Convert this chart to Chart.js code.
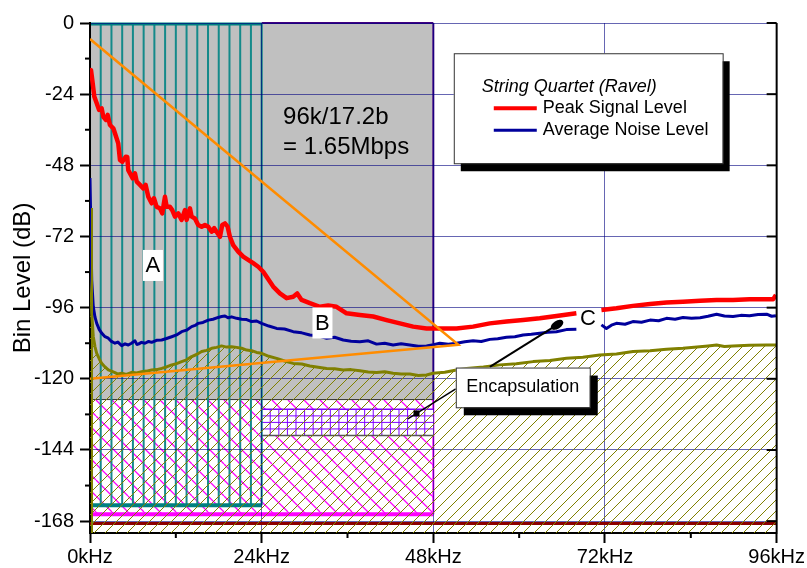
<!DOCTYPE html>
<html>
<head>
<meta charset="utf-8">
<script src="https://cdn.jsdelivr.net/npm/chart.js@4.4.1/dist/chart.umd.min.js"></script>
<style>
  html, body { margin: 0; padding: 0; background: #fff; }
  canvas { display: block; }
</style>
</head>
<body>
<canvas id="c" width="807" height="568"></canvas>
<script>
// axis ticks
const xTicks = [0, 24, 48, 72, 96];
const xMinor = [12, 36, 60, 84];
const yTicks = [-168, -144, -120, -96, -72, -48, -24, 0];
const yMinor = [-156, -132, -108, -84, -60, -36, -12];

// Peak Signal Level (red), gap near 70 kHz
const peakKhz = [0, 0.14, 0.32, 0.6, 0.94, 1.26, 1.63, 1.86, 2.24, 2.47, 2.79, 3.26, 3.49, 3.95, 4.19, 4.51, 4.99, 5.21, 5.35, 5.73,
  5.97, 6.29, 6.53, 6.99, 7.45, 7.78, 8.15, 8.62, 8.94, 9.32, 9.78, 10.1, 10.48, 10.72, 11.18, 11.5, 11.88, 12.34, 12.81, 13.28,
  13.51, 13.97, 14.21, 14.67, 15.13, 15.61, 16.07, 16.53, 17.01, 17.37, 17.84, 18.17, 18.49, 18.87, 19.24, 19.56, 20.02, 20.72,
  21.42, 22.12, 22.82, 23.52, 24.22, 24.69, 25.61, 26.55, 27.49, 28.41, 28.97, 29.58, 30.74, 32.14, 33.3, 34.47, 35.87, 37.73,
  39.59, 41.46, 43.32, 45.18, 47.05, 48.91, 51.24, 53.56, 55.9, 58.23, 60.55, 62.88, 65.22, 68.0, 69.8,
  71.5, 73.6, 75.9, 78.3, 80.6, 82.9, 85.3, 87.6, 89.9, 92.2, 95.5, 95.9];
const peakDb = [-16.4, -15.9, -19.2, -24.8, -27.1, -29.3, -28.8, -31.6, -32.7, -31.0, -34.4, -35.5, -37.2, -40.6, -46.2, -46.8, -45.1, -45.2, -49.6, -51.3,
  -52.4, -50.7, -53.5, -54.6, -55.8, -54.6, -58.6, -60.8, -59.1, -62.0, -62.5, -64.2, -58.6, -62.0, -62.0, -63.1, -65.3, -64.2, -66.4, -63.1,
  -66.4, -62.5, -65.3, -65.9, -68.1, -68.7, -68.1, -68.7, -70.4, -69.2, -70.9, -72.1, -68.1, -67.6, -68.7, -72.1, -74.9, -77.1,
  -78.8, -79.9, -81.0, -82.2, -83.9, -85.6, -88.9, -91.2, -92.8, -92.3, -91.2, -93.4, -94.5, -95.7, -95.3, -95.7, -97.9, -98.5,
  -99.0, -100.2, -101.3, -102.4, -103.0, -103.0, -103.0, -102.4, -101.3, -100.7, -100.2, -99.6, -98.8, -97.9, null,
  -96.8, -96.2, -95.4, -94.8, -94.3, -94.0, -93.7, -93.4, -93.4, -93.2, -93.2, -91.7];

// Average Noise Level (blue), gap near 70 kHz
const noiseKhz = [0, 0.24, 0.46, 0.7, 0.94, 1.3, 1.63, 2.1, 2.56, 3.0, 3.49, 3.9, 4.43, 4.9, 5.35, 5.8, 6.29, 6.55, 6.75, 7.2,
  7.69, 8.2, 8.62, 9.3, 10.02, 10.7, 11.42, 12.1, 12.81, 13.5, 14.21, 14.7, 15.13, 15.8, 16.53, 17.2, 17.93, 18.4, 18.87, 19.3,
  19.8, 20.5, 21.2, 21.9, 22.6, 23.3, 23.99, 25.0, 26.09, 27.2, 28.41, 29.6, 30.74, 31.9, 33.08, 34.2, 35.4, 36.5, 37.73, 38.9,
  40.06, 41.2, 42.38, 43.5, 44.72, 45.9, 47.05, 48.0, 48.91, 50.1, 51.24, 52.4, 53.56, 54.7, 55.9, 57.0, 58.23, 59.4, 60.55, 61.7,
  62.88, 64.0, 65.22, 66.6, 68.0, 69.8,
  71.5, 72.2, 72.9, 73.6, 74.8, 75.9, 77.1, 78.3, 79.5, 80.6, 81.8, 82.9, 84.1, 85.3, 86.4, 87.6, 88.7, 89.9, 91.0, 92.2,
  93.4, 94.6, 95.3, 95.9];
const noiseDb = [-52.3, -86.7, -95.7, -99.2, -101.3, -103.4, -104.6, -105.8, -106.3, -107.4, -108.0, -107.6, -108.8, -108.2, -108.6, -108.0, -107.2, -108.4, -108.3, -107.7,
  -108.0, -107.4, -107.7, -107.0, -106.9, -106.4, -105.8, -105.2, -104.1, -103.6, -102.4, -102.0, -101.3, -101.0, -100.2, -99.9, -99.3, -99.0, -98.8, -99.4,
  -99.1, -99.6, -99.9, -100.0, -100.7, -100.5, -101.3, -102.2, -103.0, -103.2, -104.1, -104.5, -105.2, -105.5, -106.3, -106.0, -106.9, -107.3, -107.5, -107.2,
  -108.3, -108.0, -108.6, -108.2, -108.6, -109.0, -108.9, -108.5, -108.0, -108.3, -108.0, -107.5, -107.2, -107.4, -106.7, -106.5, -106.0, -105.8, -105.2, -105.0,
  -104.6, -104.3, -104.1, -103.4, -103.3, null,
  -101.8, -103.0, -101.9, -101.3, -101.6, -100.7, -100.9, -100.2, -100.4, -99.6, -99.9, -99.3, -99.6, -99.4, -98.9, -98.2, -98.8, -99.0, -98.6, -98.7,
  -98.3, -98.2, -98.9, -98.7];

// lower noise curve (olive), hatched below
const floorKhz = [0, 0.24, 0.46, 0.7, 0.94, 1.3, 1.63, 2.1, 2.56, 3.0, 3.49, 3.9, 4.43, 5.1, 5.83, 6.5, 7.22, 7.9, 8.62, 9.3,
  10.02, 10.7, 11.42, 12.1, 12.81, 13.5, 14.21, 14.9, 15.61, 16.3, 17.01, 17.7, 18.4, 19.1, 19.8, 20.5, 21.2, 21.9, 22.6, 23.3,
  23.99, 25.0, 26.09, 27.2, 28.41, 29.6, 30.74, 31.9, 33.08, 34.2, 35.4, 36.5, 37.73, 38.9, 40.06, 41.2, 42.38, 43.5, 44.72, 45.9,
  47.05, 47.97, 49.6, 51.24, 52.63, 55.0, 57.29, 59.6, 61.95, 64.3, 66.61, 68.9, 71.27, 73.6, 75.92, 78.3, 80.59, 82.9, 85.25, 86.4,
  87.6, 88.7, 89.9, 92.2, 94.6, 96];
const floorDb = [-62.4, -97.8, -105.8, -109.2, -111.4, -113.3, -114.8, -116.0, -117.0, -117.4, -117.9, -118.4, -118.1, -118.5, -117.8, -118.0, -117.6, -117.4, -117.0, -116.9,
  -116.5, -116.0, -115.3, -114.9, -114.2, -113.6, -112.5, -111.8, -110.8, -110.4, -109.7, -109.4, -108.9, -109.3, -109.2, -109.4, -109.7, -110.3, -110.5, -111.1,
  -111.4, -112.4, -113.1, -114.0, -114.8, -115.0, -115.7, -116.1, -116.5, -116.6, -117.0, -116.9, -117.3, -117.7, -117.9, -117.6, -118.1, -118.4, -118.4, -118.9,
  -118.7, -118.1, -117.8, -117.0, -116.5, -116.0, -115.3, -114.9, -114.2, -113.8, -113.1, -112.7, -112.0, -111.6, -110.8, -110.5, -110.0, -109.7, -109.2, -108.9,
  -108.6, -109.1, -108.9, -108.7, -108.6, -108.6];

// orange guide lines, dark red bottom line
const guideKhz = [0, 51.5, 0];
const guideDb = [-5.4, -108.5, -120];
const baseKhz = [0, 96];
const baseDb = [-168.8, -168.8];

// shaded regions [kHz from, kHz to, dB top, dB bottom]
const grayBox = [0, 48, 0, -127];
const tealBox = [0, 24, 0, -162.6];
const pinkBox = [0, 48, -127, -165.7];
const gridBox = [24, 48, -130.3, -139.1];

// annotations
const rateText = ['96k/17.2b', '= 1.65Mbps'];
const rateAt = [27.0, -31.7, -41.8];
const tags = [['A', 8.8, -81.6, true], ['B', 32.5, -101, true], ['C', 69.6, -99.5, false]];
const encText = 'Encapsulation';
const encBox = [51.14, 69.87, -116.2, -129.6];
const encArrow1 = [55.9, -116.0, 65.3, -101.8];
const encArrow2 = [51.14, -123.4, 44.44, -133.5];
const legendTitle = 'String Quartet (Ravel)';
const legendBox = [50.86, 88.45, -10.2, -47.3];

const pts = (xs, ys) => xs.map((x, i) => ({ x: x, y: ys[i] }));

const ctx0 = document.getElementById('c').getContext('2d');
function hatch(color, size, slash, w) {
  const c = document.createElement('canvas');
  c.width = size; c.height = size;
  const g = c.getContext('2d');
  g.strokeStyle = color; g.lineWidth = w;
  g.beginPath();
  for (let k = -1; k <= 1; k++) {
    if (slash) { g.moveTo(k * size, size); g.lineTo(k * size + size, 0); }
    else { g.moveTo(k * size, 0); g.lineTo(k * size + size, size); }
  }
  g.stroke();
  return ctx0.createPattern(c, 'repeat');
}
const oliveHatch = hatch('#808000', 11, true, 1);
const pinkHatch = hatch('#ff00ff', 16, false, 1.3);

const gridColor = 'rgba(0,0,128,0.6)';
const FONT = "'Liberation Sans', Arial, sans-serif";
Chart.defaults.font.family = FONT;

const overlay = {
  id: 'overlay',
  beforeDraw(chart) {
    const ctx = chart.ctx, xs = chart.scales.x, ys = chart.scales.y;
    const px = v => xs.getPixelForValue(v), py = v => ys.getPixelForValue(v);
    const line = (x1, y1, x2, y2, col, w) => {
      ctx.strokeStyle = col; ctx.lineWidth = w;
      ctx.beginPath(); ctx.moveTo(x1, y1); ctx.lineTo(x2, y2); ctx.stroke();
    };
    ctx.save();
    // gray region
    let l = px(grayBox[0]), r = px(grayBox[1]), t = py(grayBox[2]), b = py(grayBox[3]);
    ctx.fillStyle = '#c0c0c0';
    ctx.fillRect(l, t, r - l, b - t);
    // pink cross region
    const pl = px(pinkBox[0]), pr = px(pinkBox[1]), pt = py(pinkBox[2]), pb = py(pinkBox[3]);
    ctx.fillStyle = '#fff'; ctx.fillRect(pl, pt, pr - pl, pb - pt);
    ctx.fillStyle = pinkHatch; ctx.fillRect(pl, pt, pr - pl, pb - pt);
    line(pr, pt, pr, pb, '#ff00ff', 2);
    line(pl, pb, pr, pb, '#ff00ff', 4);
    // purple grid
    const gl = px(gridBox[0]), gr = px(gridBox[1]), gt = py(gridBox[2]), gb = py(gridBox[3]);
    ctx.fillStyle = '#fff'; ctx.fillRect(gl, gt, gr - gl, gb - gt);
    for (let x = gridBox[0] + 1.2; x < gridBox[1]; x += 1.2) line(px(x), gt, px(x), gb, '#8000ff', 1);
    for (let k = 1; k < 4; k++) {
      const y = gt + (gb - gt) * k / 4;
      line(gl, y, gr, y, '#8000ff', 1);
    }
    line(gl, gt, gr, gt, '#8000ff', 1.5);
    line(gl, gb, gr, gb, '#555', 1.5);
    // gray region borders
    line(px(24), t, r, t, '#400080', 2);
    line(r, t, r, b, '#400080', 2);
    line(l, b, r, b, '#333', 1);
    // teal vertical-line region
    l = px(tealBox[0]); r = px(tealBox[1]); t = py(tealBox[2]); b = py(tealBox[3]);
    for (let x = 1.5; x < tealBox[1]; x += 1.5) line(px(x), t, px(x), b, '#158a8a', 2);
    line(r, t, r, b, '#008080', 2);
    line(l, t + 1, r, t + 1, '#008080', 3);
    line(l, b, r, b, '#008080', 4);
    ctx.restore();
  },
  afterDatasetsDraw(chart) {
    const ctx = chart.ctx, xs = chart.scales.x, ys = chart.scales.y;
    ctx.save();
    ctx.strokeStyle = '#808000'; ctx.lineWidth = 2;
    ctx.beginPath();
    ctx.moveTo(xs.getPixelForValue(0) + 2, ys.getPixelForValue(floorDb[0]));
    ctx.lineTo(xs.getPixelForValue(0) + 2, chart.chartArea.bottom);
    ctx.stroke();
    ctx.restore();
  },
  afterDraw(chart) {
    const ctx = chart.ctx, xs = chart.scales.x, ys = chart.scales.y, a = chart.chartArea;
    const px = v => xs.getPixelForValue(v), py = v => ys.getPixelForValue(v);
    const line = (x1, y1, x2, y2, col, w) => {
      ctx.strokeStyle = col; ctx.lineWidth = w;
      ctx.beginPath(); ctx.moveTo(x1, y1); ctx.lineTo(x2, y2); ctx.stroke();
    };
    ctx.save();
    // right frame with inward ticks, minor ticks
    line(a.right, a.top, a.right, a.bottom + 1, '#000', 2);
    yTicks.forEach(v => line(a.right - 10, py(v), a.right, py(v), '#000', 2));
    xMinor.forEach(v => line(px(v), a.bottom, px(v), a.bottom + 5, '#000', 2));
    yMinor.forEach(v => line(a.left - 5, py(v), a.left, py(v), '#000', 2));

    ctx.fillStyle = '#000';
    ctx.textBaseline = 'middle';
    // bit-rate note
    ctx.font = '24px ' + FONT; ctx.textAlign = 'left';
    ctx.fillText(rateText[0], px(rateAt[0]), py(rateAt[1]));
    ctx.fillText(rateText[1], px(rateAt[0]), py(rateAt[2]));
    // region tags
    ctx.font = '22px ' + FONT; ctx.textAlign = 'center';
    tags.forEach(([s, x, y, boxed]) => {
      if (boxed) { ctx.fillStyle = '#fff'; ctx.fillRect(px(x) - 10, py(y) - 15, 20, 31); }
      ctx.fillStyle = '#000';
      ctx.fillText(s, px(x), py(y) + 1);
    });

    // encapsulation callout
    const el = px(encBox[0]), er = px(encBox[1]), et = py(encBox[2]), eb = py(encBox[3]);
    line(px(encArrow1[0]), py(encArrow1[1]), px(encArrow1[2]), py(encArrow1[3]), '#000', 2);
    const ang = Math.atan2(py(encArrow1[3]) - py(encArrow1[1]), px(encArrow1[2]) - px(encArrow1[0]));
    ctx.fillStyle = '#000';
    ctx.beginPath(); ctx.ellipse(px(encArrow1[2]), py(encArrow1[3]), 7, 4, ang, 0, Math.PI * 2); ctx.fill();
    const ax = px(encArrow2[0]), ay = py(encArrow2[1]), bx = px(encArrow2[2]), by = py(encArrow2[3]);
    line(ax, ay, bx, by, '#000', 1.5);
    const sx = ax + (bx - ax) * 0.82, sy = ay + (by - ay) * 0.82;
    ctx.fillRect(sx - 3, sy - 3, 6, 6);
    ctx.fillStyle = '#000'; ctx.fillRect(el + 8, et + 8, er - el, eb - et);
    ctx.fillStyle = '#fff'; ctx.fillRect(el, et, er - el, eb - et);
    ctx.strokeStyle = '#333'; ctx.lineWidth = 1; ctx.strokeRect(el + 0.5, et + 0.5, er - el, eb - et);
    ctx.fillStyle = '#000'; ctx.font = '18px ' + FONT; ctx.textAlign = 'center';
    ctx.fillText(encText, (el + er) / 2, (et + eb) / 2);

    // legend
    const ll = px(legendBox[0]), lr = px(legendBox[1]), lt = py(legendBox[2]), lb = py(legendBox[3]);
    ctx.fillStyle = '#000'; ctx.fillRect(ll + 7, lt + 8, lr - ll, lb - lt);
    ctx.fillStyle = '#fff'; ctx.fillRect(ll, lt, lr - ll, lb - lt);
    ctx.strokeStyle = '#333'; ctx.lineWidth = 1; ctx.strokeRect(ll + 0.5, lt + 0.5, lr - ll, lb - lt);
    ctx.fillStyle = '#000'; ctx.textAlign = 'left';
    ctx.font = 'italic 18px ' + FONT;
    ctx.fillText(legendTitle, ll + 28, lt + 34);
    ctx.font = '18px ' + FONT;
    [0, 1].forEach(i => {
      const ds = chart.data.datasets[i + 1];
      const y = lt + 55 + i * 22;
      line(ll + 40, y, ll + 83, y, ds.borderColor, i === 0 ? 4 : 3);
      ctx.fillStyle = '#000';
      ctx.fillText(ds.label, ll + 89, y);
    });
    ctx.restore();
  }
};

new Chart(ctx0, {
  type: 'line',
  data: {
    datasets: [
      { label: 'Guide', data: pts(guideKhz, guideDb), borderColor: '#ff8c00', borderWidth: 2.5, fill: false },
      { label: 'Peak Signal Level', data: pts(peakKhz, peakDb), borderColor: '#ff0000', borderWidth: 4.5, fill: false, borderJoinStyle: 'round' },
      { label: 'Average Noise Level', data: pts(noiseKhz, noiseDb), borderColor: '#00009c', borderWidth: 3, fill: false, borderJoinStyle: 'round' },
      { label: 'Floor', data: pts(floorKhz, floorDb), borderColor: '#808000', borderWidth: 3, fill: 'start', backgroundColor: oliveHatch, borderJoinStyle: 'round' },
      { label: 'Base', data: pts(baseKhz, baseDb), borderColor: '#8b0000', borderWidth: 3, fill: false }
    ]
  },
  options: {
    responsive: false,
    animation: false,
    layout: { padding: { top: 23, right: 30, left: 0, bottom: 0 } },
    spanGaps: false,
    elements: { point: { radius: 0, hoverRadius: 0 }, line: { tension: 0 } },
    plugins: { legend: { display: false }, tooltip: { enabled: false } },
    scales: {
      x: {
        type: 'linear', min: 0, max: 96,
        afterBuildTicks: s => { s.ticks = xTicks.map(v => ({ value: v })); },
        ticks: { callback: v => v + 'kHz', color: '#000', font: { size: 20 }, padding: 2, maxRotation: 0, autoSkip: false },
        grid: { color: gridColor, lineWidth: 1, tickColor: '#000', tickWidth: 2, tickLength: 10 },
        border: { color: '#000', width: 2 },
        afterFit: s => { s.height = 35; }
      },
      y: {
        type: 'linear', min: -172, max: 0,
        afterBuildTicks: s => { s.ticks = yTicks.map(v => ({ value: v })); },
        ticks: { color: '#000', font: { size: 20 }, padding: 6, autoSkip: false },
        grid: { color: gridColor, lineWidth: 1, tickColor: '#000', tickWidth: 2, tickLength: 10 },
        border: { color: '#000', width: 2 },
        title: { display: true, text: 'Bin Level (dB)', color: '#000', font: { size: 24 }, padding: { top: 9, bottom: 0 } },
        afterFit: s => { s.width = 90; }
      }
    }
  },
  plugins: [overlay]
});
</script>
</body>
</html>
